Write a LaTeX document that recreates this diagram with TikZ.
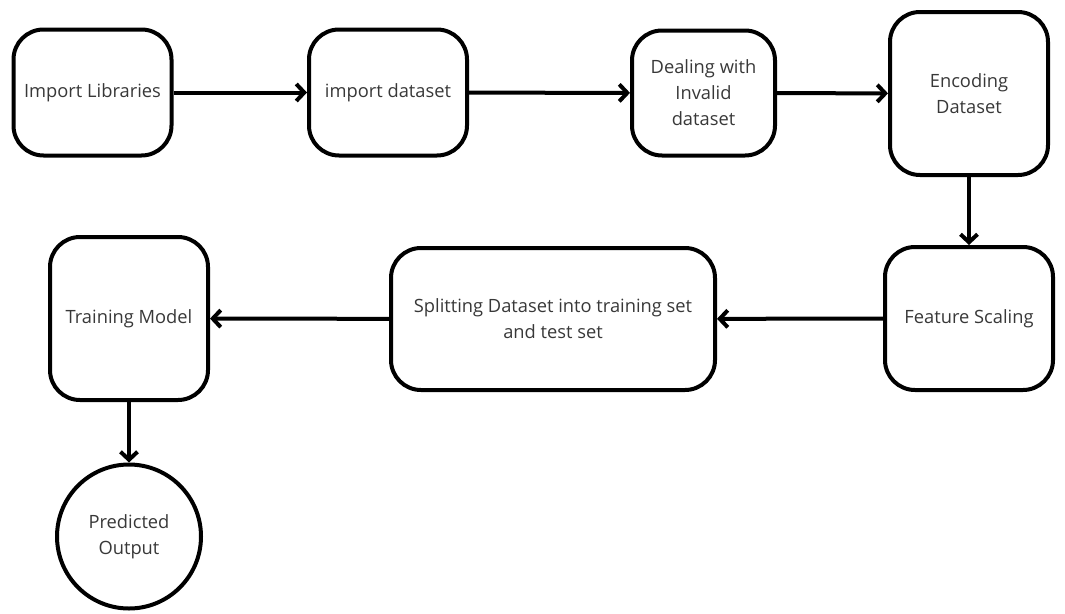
\documentclass[tikz,border=0pt]{standalone}
\usepackage{fontspec}
\setmainfont{Open Sans}
\usetikzlibrary{positioning,arrows.meta,shapes}

\begin{document}
\begin{tikzpicture}[x=1pt,y=-1pt]
                    \tikzstyle{every node}=[font=\fontsize{18.3}{26}\selectfont,text=black!78,align=center,inner sep=0]
                    \tikzstyle{stage}=[draw=black,line width=4,rectangle,rounded corners=30]
                    \tikzstyle{goal}=[draw=black,line width=4,circle,minimum size=144]
                    \tikzstyle{flow}=[draw=black,line width=4,-{Straight Barb[length=8,width=17,line width=4]}]
                    \useasboundingbox (0,0) rectangle (1065,613);
                    {
                        \node[stage,minimum width=158,minimum height=126] (libs) at (92.5, 92.5) {Import Libraries};
                        \node[stage,minimum width=158,minimum height=126] (data) at (388, 92.5) {import dataset};
                        \node[stage,minimum width=143,minimum height=125] (invalid) at (703.5, 93) {Dealing with\\Invalid\\dataset};
                        \node[stage,minimum width=158,minimum height=163] (encode) at (969, 93.5) {Encoding\\Dataset};
                        \node[stage,minimum width=168,minimum height=143,node distance=225] (scale) [below of=encode] {Feature Scaling};
                        \node[stage,minimum width=324,minimum height=142] (split) at (553, 319) {Splitting Dataset into training set\\and test set};
                        \node[stage,minimum width=158,minimum height=163] (train) at (129, 318.5) {Training Model};
                        \node[goal,node distance=218] (output) [below of=train] {Predicted\\Output};

                        \path[flow]
                            (libs) edge (data)
                            (data) edge (invalid)
                            (invalid) edge (encode)
                            (encode) edge (scale)
                            (scale) edge (split)
                            (split) edge (train)
                            (train) edge (output);
                    }
\end{tikzpicture}
\end{document}
